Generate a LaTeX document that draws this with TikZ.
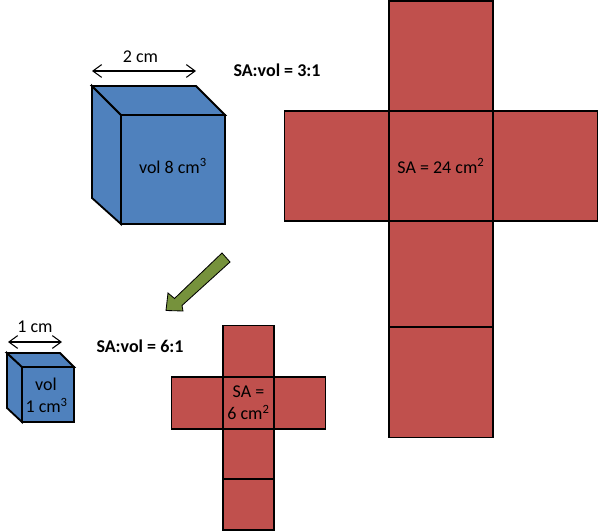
\documentclass[tikz,border=0pt]{standalone}
\usepackage{fontspec}
\setmainfont{Carlito}
\usepackage{xcolor}
\usetikzlibrary{positioning,arrows.meta}
\definecolor{cubeblue}{HTML}{4F81BD}
\definecolor{netred}{HTML}{C0504D}
\definecolor{arrowgreen}{HTML}{76923C}

\begin{document}
\begin{tikzpicture}[
    x=0.025cm, y=-0.025cm,
    >={Straight Barb[length=2.2mm,width=3.2mm]},
    font=\fontsize{12.8}{15.5}\selectfont,
    edge/.style={draw=black, line width=1.3pt, line join=miter},
    cubeface/.style={edge, fill=cubeblue},
    face/.style={edge, fill=netred, inner sep=0pt, outer sep=0pt, align=center},
    bigface/.style={face, minimum width=2.6cm, minimum height=2.75cm},
    smallface/.style={face, minimum width=1.275cm, minimum height=1.3cm},
    front/.style={cubeface, inner sep=0pt, outer sep=0pt, align=center},
    ratio/.style={font=\fontsize{12.8}{14}\selectfont\bfseries},
    dim/.style={<->, line width=0.75pt},
  ]
    \useasboundingbox (0,0) rectangle (599,531);

    % large cube
    \node[front, minimum width=2.6cm, minimum height=2.725cm] (front1) at (173,169.5) {};
    \coordinate (back1) at (92,86);
    \draw[cubeface] (back1) -- (front1.north west) -- (front1.south west) -- (92,198) -- cycle;
    \draw[cubeface] (back1) -- (196,86) -- (front1.north east) -- (front1.north west) -- cycle;
    \node (vol1) at (173,166) {vol 8 cm\textsuperscript{3}};

    \coordinate (w1a) at (92,71);
    \coordinate (w1b) at (196,71);
    \draw[dim] (w1a) -- (w1b);
    \node (len1) at (140.5,57) {2 cm};
    \node[ratio] (ratio1) at (277,70.5) {SA:vol = 3:1};

    % large net
    \node[bigface] (top1) at (441,56) {};
    \node[bigface, minimum height=2.65cm] (under1) at (441,274) {};
    \node[bigface] (base1) at (441,382.5) {};
    \node[bigface] (left1) at (336.5,166) {};
    \node[bigface] (right1) at (545.5,166) {};
    \node[bigface] (mid1) at (441,166) {SA = 24 cm\textsuperscript{2}};

    % arrow between sizes
    \filldraw[draw=black, line width=0.6pt, fill=arrowgreen]
      (166,310.5) -- (168,293) -- (174.5,298.5) -- (222,253) -- (230,262)
      -- (182,305.5) -- (183,311) -- cycle;

    % small cube
    \node[front, minimum width=1.3cm, minimum height=1.375cm] (front2) at (48,394.5) {};
    \coordinate (back2) at (7,353);
    \draw[cubeface] (back2) -- (front2.north west) -- (front2.south west) -- (7,408) -- cycle;
    \draw[cubeface] (back2) -- (60,353) -- (front2.north east) -- (front2.north west) -- cycle;
    \node[align=center] (vol2) at (46,395.5) {vol\\\hspace{1pt}1 cm\textsuperscript{3}};

    \coordinate (w2a) at (8,342);
    \coordinate (w2b) at (62,342);
    \draw[dim] (w2a) -- (w2b);
    \node (len2) at (35,327) {1 cm};
    \node[ratio] (ratio2) at (140,346) {SA:vol = 6:1};

    % small net
    \node[smallface] (top2) at (248.5,351.5) {};
    \node[smallface, minimum height=1.25cm] (under2) at (248.5,454) {};
    \node[smallface, minimum height=1.275cm] (base2) at (248.5,504.5) {};
    \node[smallface] (left2) at (197,403) {};
    \node[smallface] (right2) at (300,403) {};
    \node[smallface] (mid2) at (248.5,403) {SA =\\6 cm\textsuperscript{2}};
  \end{tikzpicture}
\end{document}
